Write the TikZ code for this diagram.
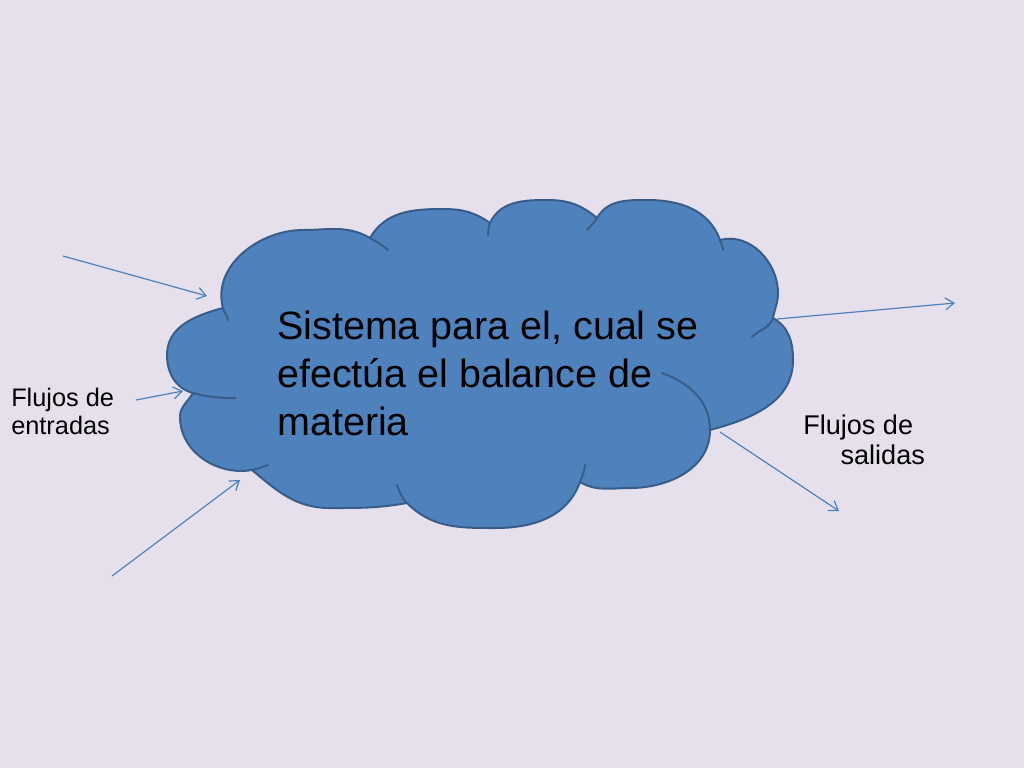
\documentclass[tikz,border=0pt]{standalone}
\usepackage{fontspec}
\setmainfont{Liberation Sans}
\usetikzlibrary{arrows.meta}
\definecolor{cloudfill}{HTML}{4F81BD}
\definecolor{cloudline}{HTML}{385D8A}
\definecolor{slidebg}{HTML}{E5E0EC}

\begin{document}
\begin{tikzpicture}[x=0.75pt, y=0.75pt,
	flow/.style={draw=cloudfill, line width=0.9pt, -{Straight Barb[length=6.5pt,width=9pt]}},
	lobe/.style={draw=cloudline, line width=1.5pt, line join=round, line cap=round}]
% BACKGROUND
	\fill [slidebg] (0,0) rectangle (1024,-768);
	\useasboundingbox (0,0) rectangle (1024,-768);

% CLOUD
	\coordinate (j1) at (193,-393);
	\coordinate (j2) at (223,-308);
	\coordinate (j3) at (370,-238);
	\coordinate (j4) at (490,-223);
	\coordinate (j5) at (597,-218);
	\coordinate (j6) at (720,-240);
	\coordinate (j7) at (773,-318);
	\coordinate (j8) at (710,-430);
	\coordinate (j9) at (580,-482);
	\coordinate (j10) at (407,-503);
	\coordinate (j11) at (252,-470);

	\filldraw [lobe, fill=cloudfill]
	(j1) to [out=165, in=-90] (167,-355) to [out=90, in=195] (j2)
	to [out=105, in=180] (303,-230) to [out=0, in=150] (j3)
	to [out=60, in=180] (443,-209) to [out=0, in=145] (j4)
	to [out=65, in=180] (547,-200) to [out=0, in=140] (j5)
	to [out=60, in=180] (647,-200) to [out=0, in=110] (j6)
	to [out=15, in=90] (778,-293) to [out=-90, in=80] (j7)
	to [out=-30, in=90] (793,-360) to [out=-90, in=15] (j8)
	to [out=-90, in=0] (630,-488) to [out=180, in=-30] (j9)
	to [out=-110, in=0] (495,-528) to [out=180, in=-45] (j10)
	to [out=-170, in=0] (330,-508) to [out=180, in=-40] (j11)
	to [out=190, in=-90] (180,-417) to [out=90, in=-120] (j1)
	-- cycle;

	\draw [lobe]
	(j1) to [out=-15, in=180] (235,-398)
	(j2) to [out=-75, in=100] (228,-320)
	(j3) to [out=-30, in=140] (388,-250)
	(j4) to [out=-115, in=80] (488,-235)
	(j5) to [out=-120, in=50] (587,-230)
	(j6) to [out=-70, in=95] (723,-250)
	(j7) to [out=-110, in=45] (752,-337)
	(662,-373) to [out=-20, in=90] (j8)
	(j9) to [out=70, in=-95] (585,-465)
	(j10) to [out=135, in=-70] (397,-485)
	(j11) to [out=10, in=195] (268,-465);

% TEXTS
	\node (sistema) [anchor=base west, align=left, inner sep=0pt,
	font=\fontsize{29.6}{36}\selectfont] at (277,-435)
	{Sistema para el, cual se\\efectúa el balance de\\materia};
	\node (entradas) [anchor=base west, align=left, inner sep=0pt,
	font=\fontsize{19}{20.7}\selectfont] at (11,-434)
	{Flujos de\\entradas};
	\node (salidas) [anchor=base west, align=left, inner sep=0pt,
	font=\fontsize{20.3}{22.5}\selectfont] at (803,-464)
	{Flujos de\\\hspace*{28pt}salidas};

% FLOWS IN AND OUT
	\coordinate (in1s) at (63,-256);  \coordinate (in1e) at (207,-296);
	\coordinate (in2s) at (136,-400); \coordinate (in2e) at (183,-391);
	\coordinate (in3s) at (112,-576); \coordinate (in3e) at (240,-480);
	\coordinate (out1s) at (777,-319); \coordinate (out1e) at (955,-303);
	\coordinate (out2s) at (720,-432); \coordinate (out2e) at (839,-511);

	\draw [flow] (in1s) -- (in1e);
	\draw [flow] (in2s) -- (in2e);
	\draw [flow] (in3s) -- (in3e);
	\draw [flow] (out1s) -- (out1e);
	\draw [flow] (out2s) -- (out2e);

\end{tikzpicture}
\end{document}
